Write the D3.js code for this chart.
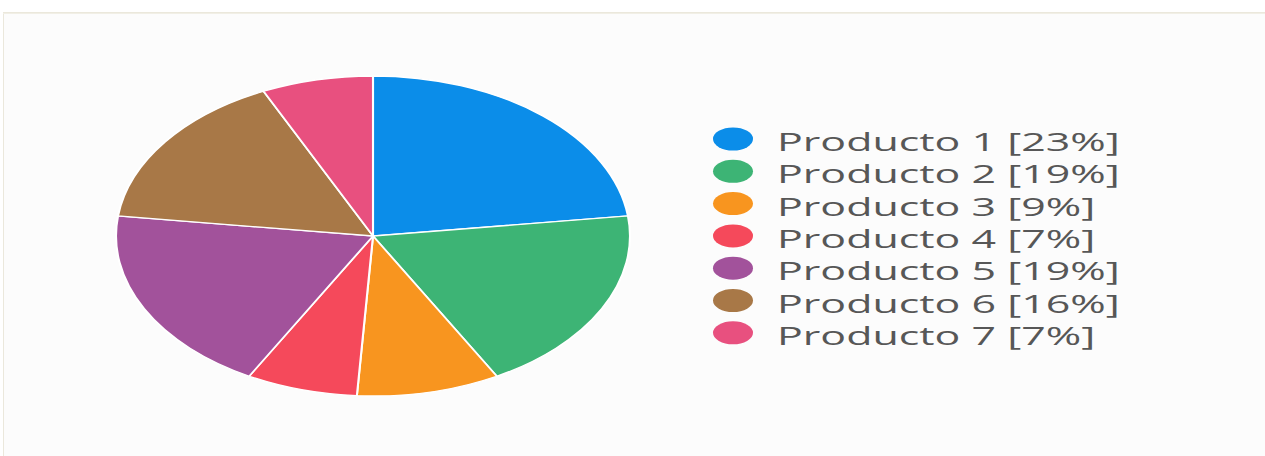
<!DOCTYPE html>
<html>
<head>
<meta charset="utf-8">
<script src="https://cdn.jsdelivr.net/npm/d3@7"></script>
<style>
  html, body { margin: 0; padding: 0; background: #ffffff; }
  svg { display: block; }
</style>
</head>
<body>
<svg id="chart" width="1265" height="456"></svg>
<script>
var categories = ["Producto 1", "Producto 2", "Producto 3", "Producto 4", "Producto 5", "Producto 6", "Producto 7"];
var percents = [23, 19, 9, 7, 19, 16, 7];
var colors = ["#0b8de9", "#3db475", "#f8951f", "#f5495b", "#a2529b", "#a87847", "#e8507f"];

var svg = d3.select("#chart");

// panel behind the chart
svg.append("rect")
  .attr("x", 3.5).attr("y", 12.5)
  .attr("width", 1265).attr("height", 450)
  .attr("fill", "#fcfcfc")
  .attr("stroke", "#ebe8dc")
  .attr("stroke-width", 1);
svg.append("line")
  .attr("x1", 3).attr("x2", 1265)
  .attr("y1", 13.5).attr("y2", 13.5)
  .attr("stroke", "#f1efe6")
  .attr("stroke-width", 1);

// the picture is stretched sideways, so the pie is an ellipse
var rx = 257, ry = 160;
var sx = rx / ry;

var pie = d3.pie().sort(null).value(function(d) { return d; });
var arc = d3.arc().innerRadius(0).outerRadius(ry);

var g = svg.append("g")
  .attr("transform", "translate(373,236) scale(" + sx + ",1)");

g.selectAll("path")
  .data(pie(percents))
  .join("path")
  .attr("d", arc)
  .attr("fill", function(d, i) { return colors[i]; })
  .attr("stroke", "#ffffff")
  .attr("stroke-width", 1.3);

// legend
var legendX = 733, legendY = 139, rowH = 32.3;
var textW = 343;

var rows = svg.append("g").selectAll("g")
  .data(categories)
  .join("g")
  .attr("transform", function(d, i) { return "translate(0," + (legendY + i * rowH) + ")"; });

rows.append("ellipse")
  .attr("cx", legendX)
  .attr("cy", 0)
  .attr("rx", 20)
  .attr("ry", 11.5)
  .attr("fill", function(d, i) { return colors[i]; });

var labels = rows.append("g")
  .attr("class", "lbl")
  .append("text")
  .attr("x", 0)
  .attr("y", 12)
  .attr("font-family", "'Open Sans', sans-serif")
  .attr("font-size", 25)
  .attr("fill", "#575757")
  .text(function(d, i) { return d + " [" + percents[i] + "%]"; });

// squeeze the text the same way as the pie
var w0 = labels.node().getBBox().width;
var tx = textW / w0;
rows.select("g.lbl")
  .attr("transform", "translate(777,0) scale(" + tx + ",1)");
</script>
</body>
</html>
